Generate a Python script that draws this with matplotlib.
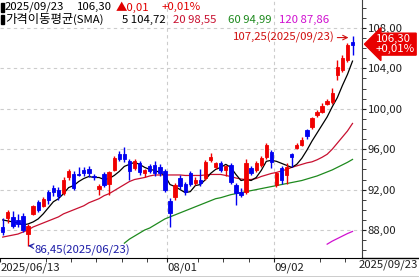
import numpy as np
import matplotlib
matplotlib.use('Agg')
import matplotlib.pyplot as plt
from matplotlib.ticker import MultipleLocator, FuncFormatter, FixedLocator
from matplotlib.transforms import blended_transform_factory
from matplotlib.patches import Rectangle

plt.rcParams['font.family'] = ['Noto Sans CJK KR', 'DejaVu Sans']

# 일봉 OHLC
opens = [88.3, 89.2, 89.3, 89.0, 89.4, 87.6, 89.6, 90.8, 90.4, 91.8,
         92.2, 92.0, 91.7, 93.2, 93.5, 93.5, 93.9, 94.0, 93.3, 92.1,
         93.5, 92.6, 93.9, 95.5, 95.5, 94.8, 94.1, 94.6, 93.6, 94.3,
         94.4, 94.2, 93.8, 90.9, 91.3, 93.1, 92.6, 93.6, 92.7, 93.0,
         93.1, 94.9, 94.2, 94.6, 93.9, 94.4, 92.5, 91.8, 91.8, 94.1,
         93.9, 94.4, 95.2, 95.7, 92.5, 94.1, 93.4, 95.5, 96.1, 96.4,
         97.9, 98.2, 99.4, 99.7, 100.5, 100.7, 103.3, 103.8, 104.8, 106.6]
highs = [89.2, 90.0, 89.9, 89.6, 89.7, 88.6, 90.5, 91.0, 91.3, 92.0,
         92.5, 92.3, 93.2, 94.0, 93.8, 94.2, 94.2, 94.3, 93.5, 92.6,
         93.7, 93.8, 95.3, 95.8, 96.2, 95.0, 95.0, 94.8, 94.0, 94.5,
         94.8, 94.5, 94.0, 91.2, 92.7, 93.4, 92.8, 93.8, 93.2, 94.0,
         94.9, 95.6, 94.7, 94.8, 94.4, 94.6, 92.7, 92.2, 95.0, 94.3,
         94.8, 95.3, 96.6, 95.9, 93.7, 94.3, 94.6, 95.6, 96.6, 97.2,
         98.0, 99.2, 99.9, 100.6, 101.0, 102.1, 104.8, 105.3, 106.5, 107.25]
lows = [87.5, 88.7, 88.2, 88.3, 87.8, 86.45, 89.5, 89.8, 90.3, 90.6,
        91.4, 91.0, 91.5, 93.0, 92.0, 93.3, 93.3, 93.2, 93.0, 91.5,
        92.3, 91.5, 93.8, 94.8, 94.7, 93.0, 93.9, 93.4, 93.2, 93.6,
        93.3, 93.3, 91.8, 88.3, 91.0, 92.1, 91.5, 92.4, 92.5, 92.4,
        93.0, 94.7, 94.0, 93.7, 93.3, 92.6, 90.5, 91.3, 91.6, 93.4,
        93.7, 94.2, 95.0, 94.1, 92.3, 92.6, 92.6, 94.2, 96.0, 96.3,
        97.0, 98.0, 99.2, 99.6, 100.4, 100.5, 102.9, 103.6, 104.6, 105.3]
closes = [87.8, 89.8, 88.4, 88.6, 88.0, 88.4, 90.4, 90.0, 91.1, 91.0,
          91.8, 91.4, 93.0, 93.8, 92.2, 93.4, 93.6, 93.6, 93.2, 92.4,
          92.5, 93.7, 95.1, 95.0, 95.0, 93.8, 94.8, 93.7, 93.9, 93.8,
          93.6, 93.6, 92.0, 89.7, 92.5, 92.4, 91.8, 92.6, 93.0, 92.7,
          94.7, 95.2, 94.6, 93.9, 94.3, 92.8, 91.7, 91.5, 94.6, 93.6,
          94.6, 95.1, 96.4, 94.7, 93.6, 93.0, 94.2, 95.2, 96.4, 96.9,
          97.3, 99.1, 99.7, 100.3, 100.8, 101.6, 104.1, 105.0, 106.29, 106.30]

# 이동평균선
sma5 = [89.0, 88.9, 88.8, 88.7, 88.5, 88.6, 88.8, 89.1, 89.6, 90.2,
        90.8, 91.1, 91.6, 92.2, 92.4, 92.8, 93.1, 93.3, 93.2, 93.2,
        93.0, 93.1, 93.4, 93.8, 94.3, 94.5, 94.7, 94.5, 94.2, 94.0,
        93.9, 93.7, 93.4, 92.5, 92.3, 92.0, 91.7, 91.8, 92.4, 92.5,
        93.0, 93.6, 94.0, 94.2, 94.5, 94.2, 93.5, 92.9, 93.0, 92.9,
        93.2, 93.9, 94.8, 94.9, 94.8, 94.6, 94.4, 94.2, 94.5, 95.1,
        95.9, 96.8, 97.6, 98.4, 99.2, 100.2, 101.1, 102.3, 103.4, 104.72]
sma20 = [87.3, 87.4, 87.5, 87.6, 87.8, 88.0, 88.3, 88.5, 88.7, 88.9,
         89.1, 89.3, 89.6, 89.8, 90.0, 90.2, 90.4, 90.7, 90.9, 91.1,
         91.4, 91.6, 91.9, 92.2, 92.5, 92.8, 93.0, 93.1, 93.2, 93.35,
         93.45, 93.45, 93.45, 93.45, 93.45, 93.45, 93.4, 93.4, 93.4, 93.4,
         93.45, 93.5, 93.5, 93.5, 93.4, 93.3, 93.15, 93.05, 93.0, 93.0,
         93.1, 93.3, 93.45, 93.6, 93.7, 93.85, 94.0, 94.2, 94.35, 94.5,
         94.65, 94.75, 94.95, 95.2, 95.5, 96.0, 96.6, 97.2, 97.8, 98.55]
sma60 = [np.nan] * 24 + [
         86.7, 87.1, 87.4, 87.7, 88.0, 88.2,
         88.5, 88.8, 89.1, 89.3, 89.5, 89.7, 89.9, 90.1, 90.3, 90.5,
         90.7, 90.9, 91.1, 91.2, 91.35, 91.5, 91.6, 91.7, 91.8, 91.9,
         92.0, 92.1, 92.2, 92.3, 92.4, 92.5, 92.6, 92.7, 92.8, 92.9,
         93.05, 93.2, 93.35, 93.55, 93.75, 93.95, 94.2, 94.45, 94.7, 94.99]
sma120 = [np.nan] * 64 + [86.6, 86.9, 87.15, 87.4, 87.65, 87.86]

last_date = '2025/09/23'
low_date = '2025/06/23'
prev_close = 106.29

date_labels = ['2025/06/13', '08/01', '09/02']
date_label_idx = [0, 33, 54]
week_tick_idx = [9, 14, 19, 24, 29, 39, 44, 49, 63, 68]

UP = '#f00000'
DOWN = '#0000f0'
C5, C20, C60, C120 = 'black', '#c81030', '#1e8a1e', '#d010d0'


def fmt(v):
    return f"{v:.2f}".replace('.', ',')


o = np.array(opens); h = np.array(highs); l = np.array(lows); c = np.array(closes)
x = np.arange(len(c))
cols = np.where(c >= o, UP, DOWN)

W, H = 419, 277
fs = 8.2
fig = plt.figure(figsize=(W / 100, H / 100), dpi=100)
ax = fig.add_axes([0, (H - 258) / H, 362 / W, 258 / H])

# 그리드
for v in np.arange(88, 109, 4):
    ax.axhline(v, color='#cccccc', lw=0.8, ls=(0, (3, 3)), zorder=0)
for i in date_label_idx[1:]:
    ax.axvline(i - 0.5, color='#cccccc', lw=0.8, ls=(0, (3, 3)), zorder=0)

# 이동평균선
ax.plot(x, sma120, color=C120, lw=0.9, zorder=2)
ax.plot(x, sma60, color=C60, lw=0.9, zorder=2)
ax.plot(x, sma20, color=C20, lw=0.9, zorder=2)
ax.plot(x, sma5, color=C5, lw=0.9, zorder=2)

# 캔들
ax.vlines(x, l, h, colors=cols, lw=1, zorder=3)
ax.bar(x, np.abs(c - o), bottom=np.minimum(o, c), width=0.66,
       color=cols, edgecolor=cols, linewidth=0.6, zorder=4)

ax.set_xlim(-0.53, 70.87)
ax.set_ylim(85.23, 110.77)

for s in ['left', 'top']:
    ax.spines[s].set_visible(False)
ax.spines['right'].set_color('#404040')
ax.spines['bottom'].set_color('black')

ax.yaxis.tick_right()
ax.set_yticks(np.arange(88, 109, 4))
ax.yaxis.set_minor_locator(MultipleLocator(1))
ax.yaxis.set_major_formatter(FuncFormatter(lambda v, p: fmt(v)))
ax.tick_params(axis='y', which='both', direction='out', length=3, pad=1,
               labelsize=fs, colors='#202020')

ax.set_xticks([i - 0.5 for i in date_label_idx])
ax.set_xticklabels(date_labels, ha='left')
ax.xaxis.set_minor_locator(FixedLocator([i - 0.5 for i in week_tick_idx]))
ax.tick_params(axis='x', which='both', direction='out', length=3, pad=0,
               labelsize=fs, colors='#202020')

# 최고/최저 표시
hi_i = int(np.argmax(h)); lo_i = int(np.argmin(l))
ax.annotate(f"{fmt(h[hi_i])}({last_date})", xy=(hi_i - 0.8, h[hi_i] - 0.2),
            xytext=(-10, 0), textcoords='offset points', ha='right', va='center',
            color='#d01010', fontsize=fs,
            arrowprops=dict(arrowstyle='->', color='#d01010', lw=0.8,
                            shrinkA=0, shrinkB=0))
ax.annotate(f"{fmt(l[lo_i])}({low_date})", xy=(lo_i, l[lo_i]),
            xytext=(5, -3.2), textcoords='offset points', ha='left', va='center',
            color='#1c1ca8', fontsize=fs,
            arrowprops=dict(arrowstyle='->', color='#1c1ca8', lw=0.8,
                            shrinkA=0, shrinkB=0))

# 현재가 태그
chg = c[-1] - prev_close
pct = chg / prev_close * 100
tr = blended_transform_factory(ax.transAxes, ax.transData)
ax.text(1.038, c[-1] + 0.1, f"{fmt(c[-1])}\n+{fmt(pct)}%", transform=tr,
        ha='left', va='center', color='white', fontsize=fs, linespacing=0.95,
        bbox=dict(boxstyle='larrow,pad=0.1', fc='#e80000', ec='#e80000'),
        clip_on=False, zorder=10)

# 상단 정보 / 하단 라벨 (픽셀 좌표 오버레이)
ov = fig.add_axes([0, 0, 1, 1])
ov.set_xlim(0, W); ov.set_ylim(H, 0); ov.axis('off')
ov.add_patch(Rectangle((1, 2.5), 3, 9, color='black'))
ov.add_patch(Rectangle((1, 14.5), 3, 9, color='black'))
ov.text(5, 7.2, last_date, fontsize=fs, va='center')
ov.text(77, 7.2, fmt(c[-1]), fontsize=fs, va='center')
ov.text(116, 7.2, f"▲{fmt(chg)}", fontsize=fs, va='center', color='#e00000')
ov.text(162, 7.2, f"+{fmt(pct)}%", fontsize=fs, va='center', color='#e00000')
ov.text(5, 19.5, '가격이동평균', fontsize=8.9, va='center')
ov.text(73, 19.5, '(SMA)', fontsize=fs, va='center')
ov.text(122, 19.5, f"5 {fmt(sma5[-1])}", fontsize=fs, va='center', color=C5)
ov.text(173, 19.5, f"20 {fmt(sma20[-1])}", fontsize=fs, va='center', color=C20)
ov.text(228, 19.5, f"60 {fmt(sma60[-1])}", fontsize=fs, va='center', color=C60)
ov.text(279, 19.5, f"120 {fmt(sma120[-1])}", fontsize=fs, va='center', color=C120)
ov.text(418, 264.5, last_date, fontsize=fs, va='center', ha='right', color='#202020')
ov.plot([362, W], [258, 258], color='black', lw=1)
ov.plot([0, W], [276.5, 276.5], color='black', lw=1)

fig.savefig('out.png', dpi=100)
